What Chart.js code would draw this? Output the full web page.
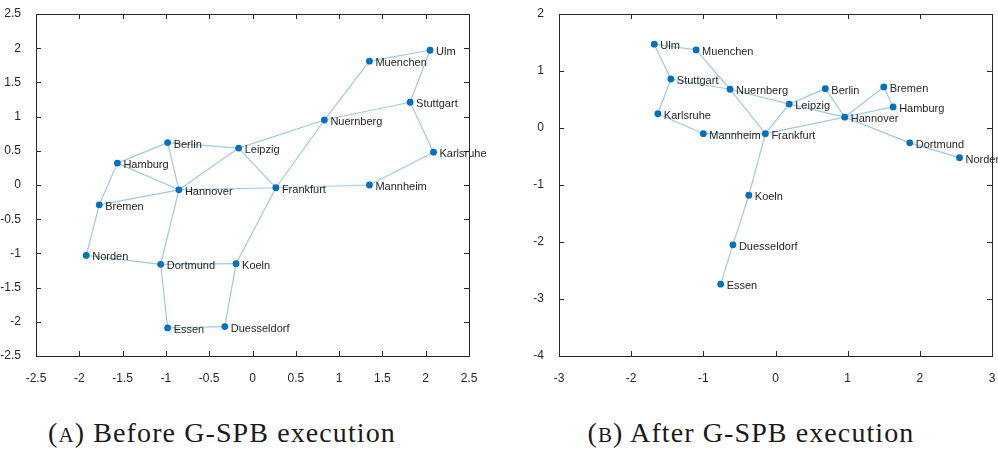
<!DOCTYPE html>
<html>
<head>
<meta charset="utf-8">
<script src="https://cdn.jsdelivr.net/npm/chart.js@4.4.1/dist/chart.umd.min.js"></script>
<style>
    html, body { margin: 0; padding: 0; background: #fff; overflow: hidden; }
    body { width: 998px; height: 452px; position: relative; }
    canvas { position: absolute; top: 0; }
    #chartBefore { left: 0; }
    #chartAfter { left: 500px; }
    .caption {
        position: absolute; top: 419px; white-space: nowrap;
        font-family: "Liberation Serif", serif; font-size: 28px; line-height: 28px;
        color: #1a1a1a; letter-spacing: 1.1px; transform: translateX(-50%);
    }
    .sc { font-size: 21px; }
</style>
</head>
<body>
<canvas id="chartBefore" width="486" height="390"></canvas>
<canvas id="chartAfter" width="498" height="390"></canvas>
<div class="caption" style="left:222px">(<span class="sc">A</span>) Before G-SPB execution</div>
<div class="caption" style="left:751px">(<span class="sc">B</span>) After G-SPB execution</div>

<script>
// node names
const cities = ['Ulm', 'Muenchen', 'Stuttgart', 'Nuernberg', 'Karlsruhe', 'Mannheim', 'Frankfurt', 'Leipzig',
    'Berlin', 'Hannover', 'Hamburg', 'Bremen', 'Norden', 'Dortmund', 'Koeln', 'Essen', 'Duesseldorf'];

// (A) before
const beforeX = [2.05, 1.35, 1.82, 0.83, 2.09, 1.35, 0.27, -0.16, -0.98, -0.85, -1.56, -1.77, -1.92, -1.06, -0.19, -0.98, -0.32];
const beforeY = [1.97, 1.81, 1.21, 0.95, 0.48, 0.00, -0.04, 0.54, 0.62, -0.07, 0.32, -0.29, -1.03, -1.16, -1.15, -2.09, -2.07];
const beforeEdges = [
    ['Ulm', 'Muenchen'], ['Ulm', 'Stuttgart'], ['Muenchen', 'Nuernberg'], ['Nuernberg', 'Stuttgart'],
    ['Stuttgart', 'Karlsruhe'], ['Karlsruhe', 'Mannheim'], ['Mannheim', 'Frankfurt'], ['Nuernberg', 'Frankfurt'],
    ['Nuernberg', 'Leipzig'], ['Leipzig', 'Berlin'], ['Leipzig', 'Frankfurt'], ['Leipzig', 'Hannover'],
    ['Berlin', 'Hamburg'], ['Berlin', 'Hannover'], ['Hamburg', 'Hannover'], ['Hamburg', 'Bremen'],
    ['Bremen', 'Hannover'], ['Bremen', 'Norden'], ['Norden', 'Dortmund'], ['Hannover', 'Dortmund'],
    ['Hannover', 'Frankfurt'], ['Dortmund', 'Koeln'], ['Dortmund', 'Essen'], ['Essen', 'Duesseldorf'],
    ['Duesseldorf', 'Koeln'], ['Koeln', 'Frankfurt']
];
const beforeTicksX = [-2.5, -2, -1.5, -1, -0.5, 0, 0.5, 1, 1.5, 2, 2.5];
const beforeTicksY = [-2.5, -2, -1.5, -1, -0.5, 0, 0.5, 1, 1.5, 2, 2.5];

// (B) after
const afterX = [-1.68, -1.10, -1.45, -0.63, -1.63, -1.00, -0.14, 0.19, 0.69, 0.96, 1.63, 1.50, 2.55, 1.86, -0.37, -0.76, -0.59];
const afterY = [1.47, 1.37, 0.86, 0.68, 0.25, -0.10, -0.10, 0.42, 0.69, 0.19, 0.37, 0.72, -0.52, -0.26, -1.18, -2.74, -2.05];
const afterEdges = [
    ['Ulm', 'Muenchen'], ['Ulm', 'Stuttgart'], ['Muenchen', 'Nuernberg'], ['Stuttgart', 'Nuernberg'],
    ['Stuttgart', 'Karlsruhe'], ['Karlsruhe', 'Mannheim'], ['Mannheim', 'Frankfurt'], ['Nuernberg', 'Frankfurt'],
    ['Nuernberg', 'Leipzig'], ['Leipzig', 'Frankfurt'], ['Leipzig', 'Berlin'], ['Leipzig', 'Hannover'],
    ['Berlin', 'Hannover'], ['Bremen', 'Hannover'], ['Bremen', 'Hamburg'], ['Hamburg', 'Hannover'],
    ['Hannover', 'Frankfurt'], ['Hannover', 'Dortmund'], ['Dortmund', 'Norden'], ['Frankfurt', 'Koeln'],
    ['Koeln', 'Duesseldorf'], ['Duesseldorf', 'Essen']
];
const afterTicksX = [-3, -2, -1, 0, 1, 2, 3];
const afterTicksY = [-4, -3, -2, -1, 0, 1, 2];

const nodeColor = '#0072BD';
const edgeColor = 'rgba(0, 114, 189, 0.38)';
const axisColor = '#262626';

// box + inward ticks (matlab style) and node labels
const graphPlugin = {
    id: 'graphDecor',
    afterDatasetsDraw(chart) {
        const ctx = chart.ctx;
        const a = chart.chartArea;
        const sx = chart.scales.x, sy = chart.scales.y;
        ctx.save();
        ctx.strokeStyle = axisColor;
        ctx.lineWidth = 1;
        ctx.strokeRect(Math.round(a.left) + 0.5, Math.round(a.top) + 0.5,
            Math.round(a.right - a.left), Math.round(a.bottom - a.top));
        ctx.beginPath();
        sx.ticks.forEach(t => {
            const px = Math.round(sx.getPixelForValue(t.value)) + 0.5;
            ctx.moveTo(px, a.bottom); ctx.lineTo(px, a.bottom - 5);
            ctx.moveTo(px, a.top); ctx.lineTo(px, a.top + 5);
        });
        sy.ticks.forEach(t => {
            const py = Math.round(sy.getPixelForValue(t.value)) + 0.5;
            ctx.moveTo(a.left, py); ctx.lineTo(a.left + 5, py);
            ctx.moveTo(a.right, py); ctx.lineTo(a.right - 5, py);
        });
        ctx.stroke();

        const meta = chart.getDatasetMeta(0);
        ctx.fillStyle = '#262626';
        ctx.font = '11px "Liberation Sans", Arial, sans-serif';
        ctx.textBaseline = 'middle';
        ctx.textAlign = 'left';
        meta.data.forEach((el, i) => {
            ctx.fillText(cities[i], el.x + 6, el.y + 2);
        });
        ctx.restore();
    }
};

function buildChart(id, xs, ys, edges, ticksX, ticksY, yWidth, padRight) {
    const nodes = cities.map((c, i) => ({ x: xs[i], y: ys[i] }));
    const datasets = [{
        data: nodes,
        pointRadius: 3.4,
        pointBackgroundColor: nodeColor,
        pointBorderWidth: 0,
        showLine: false
    }];
    edges.forEach(e => {
        const i = cities.indexOf(e[0]);
        const j = cities.indexOf(e[1]);
        datasets.push({
            data: [nodes[i], nodes[j]],
            showLine: true,
            borderColor: edgeColor,
            borderWidth: 1.2,
            pointRadius: 0
        });
    });

    const tickFont = { family: '"Liberation Sans", Arial, sans-serif', size: 12 };
    const plain = v => String(v);

    return new Chart(document.getElementById(id).getContext('2d'), {
        type: 'scatter',
        data: { datasets: datasets },
        options: {
            responsive: false,
            animation: false,
            layout: { padding: { top: 14, right: padRight, left: 0, bottom: 0 } },
            plugins: { legend: { display: false }, tooltip: { enabled: false } },
            scales: {
                x: {
                    type: 'linear',
                    min: ticksX[0],
                    max: ticksX[ticksX.length - 1],
                    grid: { display: false },
                    border: { display: false },
                    afterBuildTicks: scale => { scale.ticks = ticksX.map(v => ({ value: v })); },
                    afterFit: scale => { scale.height = 34; scale.paddingLeft = 0; scale.paddingRight = 0; },
                    ticks: { color: axisColor, font: tickFont, padding: 7, maxRotation: 0, autoSkip: false, callback: plain }
                },
                y: {
                    type: 'linear',
                    min: ticksY[0],
                    max: ticksY[ticksY.length - 1],
                    grid: { display: false },
                    border: { display: false },
                    afterBuildTicks: scale => { scale.ticks = ticksY.map(v => ({ value: v })); },
                    afterFit: scale => { scale.width = yWidth; scale.paddingTop = 0; scale.paddingBottom = 0; },
                    ticks: { color: axisColor, font: tickFont, padding: 7, autoSkip: false, callback: plain }
                }
            }
        },
        plugins: [graphPlugin]
    });
}

buildChart('chartBefore', beforeX, beforeY, beforeEdges, beforeTicksX, beforeTicksY, 36, 17);
buildChart('chartAfter', afterX, afterY, afterEdges, afterTicksX, afterTicksY, 59, 6);
</script>
</body>
</html>
